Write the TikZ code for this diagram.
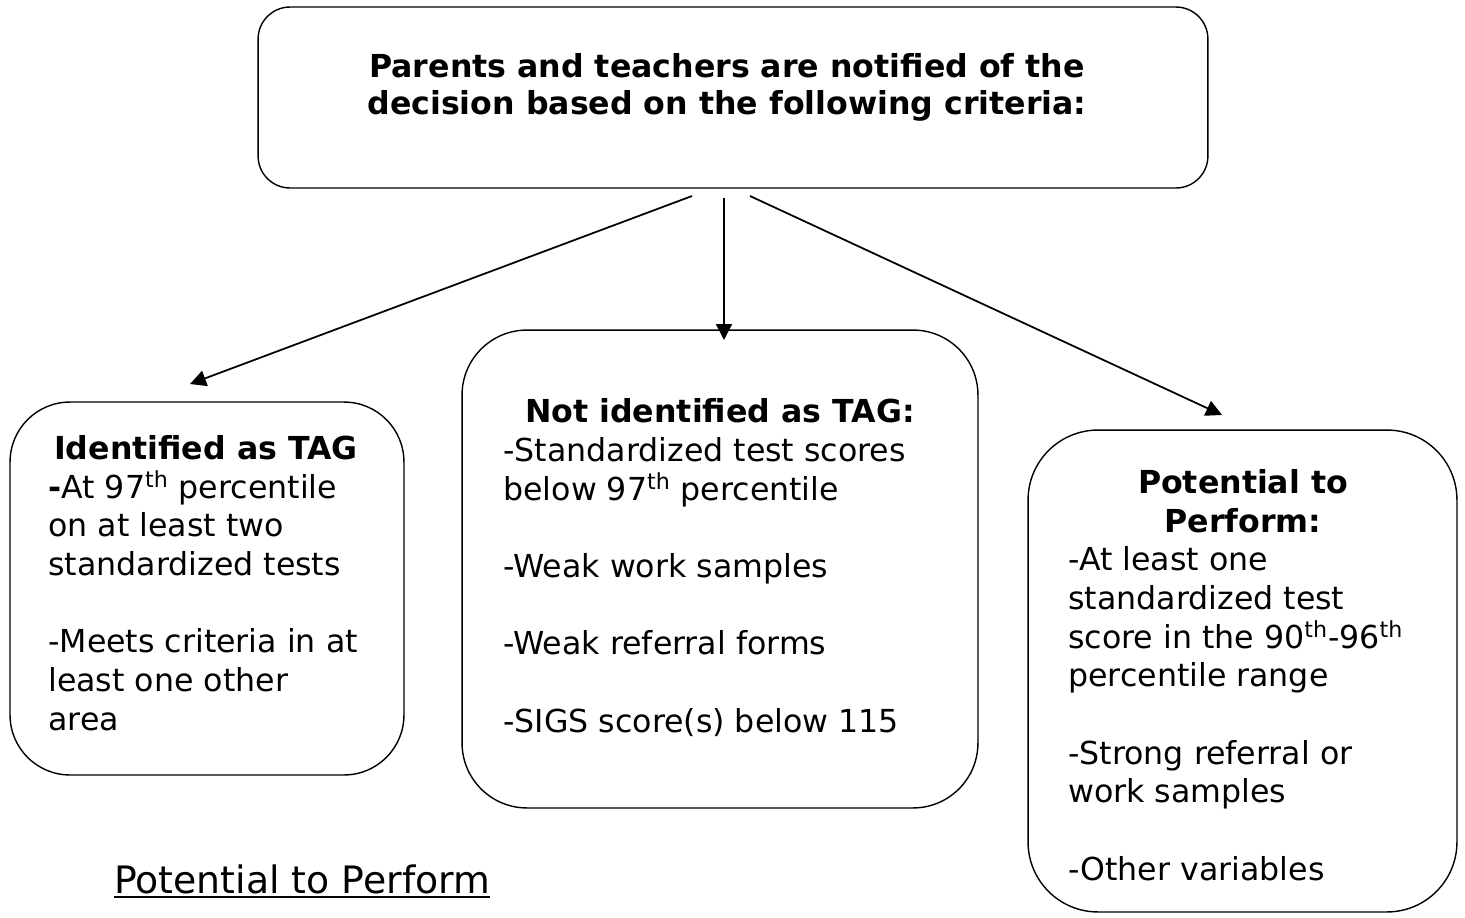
\documentclass[tikz,border=0pt]{standalone}
\usepackage{fontspec}
\setmainfont{DejaVu Sans}
\usetikzlibrary{arrows.meta,positioning}

\newcommand{\txtsize}{\fontsize{18}{22}\selectfont}
\newcommand{\supth}{\textsuperscript{th}}

\tikzset{
  box/.style={draw, line width=0.8pt, rounded corners=#1, inner sep=0pt},
  head/.style={font=\txtsize\bfseries, inner sep=0pt, align=center, anchor=base},
  body/.style={font=\txtsize, inner sep=0pt, align=left, anchor=base west},
  link/.style={->, line width=1pt},
  >={Triangle[length=0.32cm, width=0.32cm]}
}

\begin{document}
\begin{tikzpicture}[x=0.02cm, y=-0.02cm]
  % canvas
  \useasboundingbox (0,0) rectangle (1465,917);

  % boxes
  \node[box=0.64cm, minimum width=19cm, minimum height=3.62cm] (notify) at (733,97.5) {};
  \node[box=1.2cm, minimum width=7.88cm, minimum height=7.46cm] (tag) at (207,588.5) {};
  \node[box=1.3cm, minimum width=10.32cm, minimum height=9.56cm] (nottag) at (720,569) {};
  \node[box=1.4cm, minimum width=8.58cm, minimum height=9.64cm] (ptp) at (1242.5,671) {};

  % texts (multi-line nodes sit on their last baseline)
  \node[head, font=\fontsize{18}{21}\selectfont\bfseries] (notifytxt) at (727,114)
    {Parents and teachers are notified of the\\decision based on the following criteria:};

  \node[head] (taghead) at (206,459) {Identified as TAG};
  \node[body] (tagtxt) at (48,730)
    {\textbf{-}At 97\supth{} percentile\\on at least two\\standardized tests\\[22pt]-Meets criteria in at\\least one other\\area};

  \node[head] (nottaghead) at (720,422) {Not identified as TAG:};
  \node[body] (nottagtxt) at (503,732)
    {-Standardized test scores\\below 97\supth{} percentile\\[22pt]-Weak work samples\\[22pt]-Weak referral forms\\[22pt]-SIGS score(s) below 115};

  \node[head] (ptphead) at (1243,532) {Potential to\\Perform:};
  \node[body] (ptptxt) at (1068,880)
    {-At least one\\standardized test\\score in the 90\supth-96\supth\\percentile range\\[22pt]-Strong referral or\\work samples\\[22pt]-Other variables};

  \node[font=\fontsize{21.5}{26}\selectfont, inner sep=0pt, anchor=base west] (ptplabel) at (114,893) {Potential to Perform};
  \draw[line width=1.1pt] ([yshift=-0.08cm]ptplabel.base west) -- ([yshift=-0.08cm]ptplabel.base east);

  % connectors
  \coordinate (notify-l) at (692,196);
  \coordinate (notify-m) at (724,198);
  \coordinate (notify-r) at (750,196);
  \coordinate (tag-in) at (190,384);
  \coordinate (nottag-in) at (724,340);
  \coordinate (ptp-in) at (1222,415);

  \draw[link] (notify-l) -- (tag-in);
  \draw[link] (notify-m) -- (nottag-in);
  \draw[link] (notify-r) -- (ptp-in);
\end{tikzpicture}
\end{document}
